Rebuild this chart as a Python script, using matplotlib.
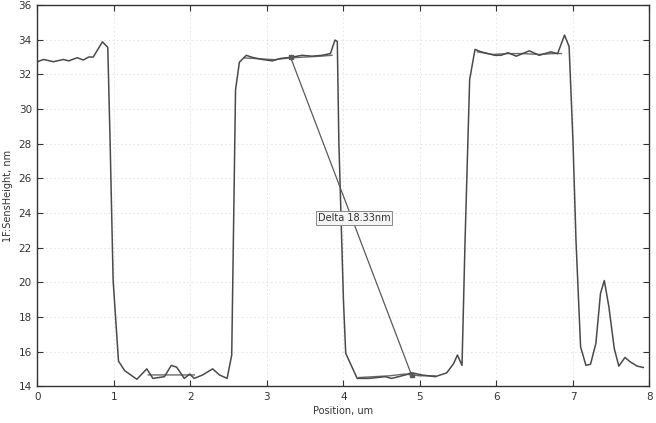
"""Height profile along a scan line, with a step-height cursor."""

from matplotlib import pyplot as plt
import numpy as np

# profile: position (um), height (nm)
pos = [0.00, 0.08, 0.21, 0.34, 0.41, 0.52, 0.60, 0.67, 0.73, 0.85, 0.92, 0.95,
       0.99, 1.06, 1.14, 1.30, 1.43, 1.51, 1.66, 1.75, 1.82, 1.92, 1.99, 2.05,
       2.16, 2.29, 2.38, 2.48, 2.54, 2.59, 2.64, 2.73, 2.81, 2.94, 3.07, 3.18,
       3.31, 3.46, 3.59, 3.72, 3.83, 3.89, 3.92, 3.94, 4.00, 4.03, 4.18, 4.33,
       4.55, 4.63, 4.81, 4.89, 5.02, 5.20, 5.35, 5.44, 5.49, 5.55, 5.59, 5.65,
       5.72, 5.80, 5.98, 6.06, 6.15, 6.26, 6.43, 6.56, 6.71, 6.80, 6.89, 6.95,
       7.00, 7.04, 7.10, 7.17, 7.23, 7.30, 7.36, 7.41, 7.47, 7.54, 7.60, 7.68,
       7.75, 7.84, 7.92]
height = [32.73, 32.86, 32.73, 32.86, 32.78, 32.96, 32.83, 33.00, 33.00, 33.88, 33.56, 28.2,
          20.1, 15.45, 14.9, 14.4, 15.0, 14.45, 14.55, 15.2, 15.1, 14.45, 14.7, 14.45,
          14.65, 15.0, 14.65, 14.45, 15.8, 31.1, 32.7, 33.1, 32.98, 32.86, 32.78, 32.92,
          32.98, 33.1, 33.05, 33.1, 33.2, 33.98, 33.9, 28.2, 19.0, 15.9, 14.45, 14.45,
          14.55, 14.45, 14.65, 14.78, 14.65, 14.55, 14.77, 15.3, 15.8, 15.2, 22.4, 31.7,
          33.44, 33.3, 33.1, 33.1, 33.25, 33.05, 33.36, 33.1, 33.3, 33.2, 34.27, 33.6,
          28.2, 22.4, 16.27, 15.2, 15.27, 16.47, 19.35, 20.1, 18.58, 16.18, 15.16, 15.66,
          15.4, 15.16, 15.08]

# second (retrace) segments seen on the plateaus
retrace_pos = [1.45, 2.05, np.nan, 2.70, 2.90, 3.10, 3.30, 3.50, 3.70, 3.85, np.nan,
               4.20, 4.40, 4.60, 4.80, 5.00, 5.20, np.nan,
               5.75, 5.95, 6.15, 6.35, 6.55, 6.75, 6.85]
retrace_height = [14.65, 14.65, np.nan, 32.95, 32.9, 32.85, 32.95, 33.0, 33.05, 33.1, np.nan,
                  14.5, 14.55, 14.6, 14.7, 14.6, 14.6, np.nan,
                  33.3, 33.15, 33.2, 33.2, 33.15, 33.2, 33.2]

# step-height cursor
cursor_pos = [3.31, 4.89]
cursor_height = [32.98, 14.65]
delta_label = "Delta 18.33nm"

fig, ax = plt.subplots(figsize=(6.56, 4.23), dpi=100)
fig.subplots_adjust(left=0.057, right=0.990, bottom=0.087, top=0.988)

line_color = "#4a4a4a"
ax.plot(retrace_pos, retrace_height, color="#6a6a6a", lw=1.0)
ax.plot(pos, height, color=line_color, lw=1.1)
ax.plot(cursor_pos, cursor_height, color="#5a5a5a", lw=0.9)
ax.plot(cursor_pos, cursor_height, "s", color="#5a5a5a", ms=2.5)

ax.text(4.14, 23.73, delta_label, ha="center", va="center", fontsize=7, color="#333333",
        bbox=dict(boxstyle="square,pad=0.2", facecolor="#f4f4f4", edgecolor="#888888", lw=0.7))

ax.set_xlim(0, 8)
ax.set_ylim(14, 36)
ax.set_xticks(np.arange(0, 9, 1))
ax.set_yticks(np.arange(14, 37, 2))
ax.grid(True, color="#e2e2e2", linestyle=(0, (2, 3)), lw=0.6)

ax.tick_params(direction="in", length=4, labelsize=7.5, colors="#333333",
               top=True, right=True, pad=4)
for side in ax.spines.values():
    side.set_color("#333333")
    side.set_linewidth(1.0)

ax.set_xlabel("Position, um", fontsize=7, color="#333333", labelpad=3)
ax.set_ylabel("1F:SensHeight, nm", fontsize=7, color="#333333", labelpad=4)

fig.savefig("out.png", dpi=100, facecolor="white")
